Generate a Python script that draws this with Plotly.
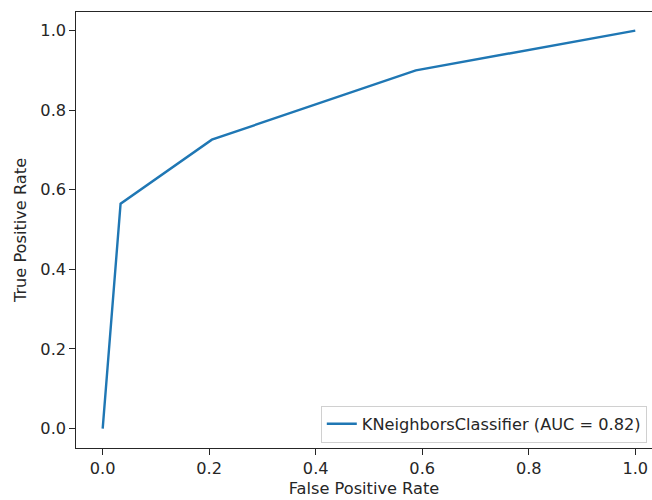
import plotly.graph_objects as go

fpr = [0.0, 0.0336, 0.205, 0.588, 1.0]
tpr = [0.0, 0.565, 0.726, 0.900, 1.0]
label = "KNeighborsClassifier (AUC = 0.82)"
tick_vals = [0.0, 0.2, 0.4, 0.6, 0.8, 1.0]
tick_text = ["0.0", "0.2", "0.4", "0.6", "0.8", "1.0"]

FONT = "DejaVu Sans"
FS = 16.2

fig = go.Figure()
fig.add_trace(go.Scatter(x=fpr, y=tpr, mode="lines", name=label,
                         line=dict(color="#1f77b4", width=2.4)))

fig.update_layout(
    width=652, height=500,
    margin=dict(l=76, r=0, t=12, b=52, autoexpand=False),
    paper_bgcolor="white", plot_bgcolor="white",
    font=dict(family=FONT, size=FS, color="#262626"),
    showlegend=True,
    legend=dict(x=0.425, y=0.012, xanchor="left", yanchor="bottom",
                bgcolor="rgba(255,255,255,0.8)", bordercolor="#d0d0d0", borderwidth=1,
                font=dict(family=FONT, size=FS, color="#262626")),
)
axis_common = dict(tickvals=tick_vals, ticktext=tick_text,
                   showgrid=False, zeroline=False, showline=True, linecolor="#262626", linewidth=1.3,
                   ticks="outside", ticklen=5.5, tickwidth=1.2, tickcolor="#262626",
                   tickfont=dict(family=FONT, size=FS, color="#262626"))
fig.update_xaxes(range=[-0.0501, 1.0314], mirror=True,
                 title=dict(text="False Positive Rate", standoff=5,
                            font=dict(family=FONT, size=FS, color="#262626")),
                 **axis_common)
fig.update_yaxes(range=[-0.0488, 1.0468], mirror=False,
                 title=dict(text="True Positive Rate", standoff=9,
                            font=dict(family=FONT, size=FS, color="#262626")),
                 **axis_common)

fig.write_html("out.html")
